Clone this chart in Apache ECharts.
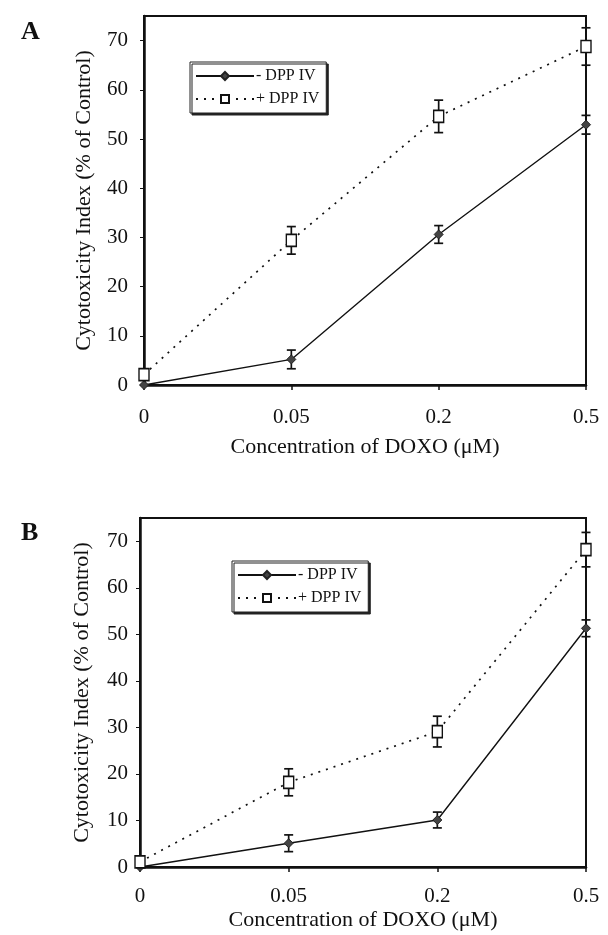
<!DOCTYPE html>
<html>
<head>
<meta charset="utf-8">
<script src="https://cdn.jsdelivr.net/npm/echarts@6/dist/echarts.min.js"></script>
<style>html,body{margin:0;padding:0;background:#fff}#c{width:608px;height:935px}</style>
</head>
<body>
<div id="c"></div>
<script>
const categories = ['0', '0.05', '0.2', '0.5'];
const yTicks = [0, 10, 20, 30, 40, 50, 60, 70];
const seriesNames = ['- DPP IV', '+ DPP IV'];
// Panel A
const aMinus = [0, 5.2, 30.6, 52.9];
const aMinusErr = [0, 1.9, 1.8, 1.9];
const aPlus = [2.1, 29.4, 54.6, 68.8];
const aPlusErr = [0, 2.8, 3.3, 3.8];
// Panel B
const bMinus = [0, 5.1, 10.1, 51.3];
const bMinusErr = [0, 1.8, 1.7, 1.8];
const bPlus = [1.1, 18.2, 29.1, 68.2];
const bPlusErr = [0, 2.9, 3.3, 3.7];

const FONT = 'Liberation Serif';
const chart = echarts.init(document.getElementById('c'), null, {renderer: 'canvas'});

function errData(vals, errs) {
  const out = [];
  vals.forEach((v, i) => { if (errs[i] > 0) out.push([i, v - errs[i], v + errs[i]]); });
  return out;
}
function errSeries(idx, vals, errs) {
  return {
    type: 'custom', xAxisIndex: idx, yAxisIndex: idx, z: 1, clip: false, silent: true,
    data: errData(vals, errs),
    encode: {x: 0, y: [1, 2]},
    renderItem: function (params, api) {
      const x = api.value(0);
      const lo = api.coord([x, api.value(1)]);
      const hi = api.coord([x, api.value(2)]);
      const w = 4.5;
      const st = {stroke: '#111', lineWidth: 1.7};
      return {type: 'group', children: [
        {type: 'line', shape: {x1: lo[0], y1: lo[1], x2: hi[0], y2: hi[1]}, style: st},
        {type: 'line', shape: {x1: lo[0] - w, y1: lo[1], x2: lo[0] + w, y2: lo[1]}, style: st},
        {type: 'line', shape: {x1: hi[0] - w, y1: hi[1], x2: hi[0] + w, y2: hi[1]}, style: st}
      ]};
    }
  };
}
function lineSeries(idx, name, vals, solid) {
  return {
    type: 'line', name: name, xAxisIndex: idx, yAxisIndex: idx, z: 3,
    data: vals,
    symbol: solid ? 'diamond' : 'rect',
    symbolSize: solid ? 9 : [10, 12],
    showAllSymbol: true,
    clip: false,
    lineStyle: {color: '#111', width: solid ? 1.4 : 1.7, type: solid ? 'solid' : [2, 6]},
    itemStyle: solid ? {color: '#444', borderColor: '#222', borderWidth: 1}
                     : {color: '#fff', borderColor: '#111', borderWidth: 1.5},
    emphasis: {disabled: true}
  };
}
const grids = [
  {left: 144, top: 16, width: 442, height: 369},
  {left: 140, top: 518, width: 446, height: 349}
];
const xLabelMargin = [22, 19];
const xNameGap = [51, 42];
const yLabelMargin = [16, 12];
const yNameGap = [49, 47];
function xAxis(i) {
  return {
    type: 'category', gridIndex: i, data: categories, boundaryGap: false,
    name: 'Concentration of DOXO (\u03bcM)', nameLocation: 'middle', nameGap: xNameGap[i],
    nameTextStyle: {fontFamily: FONT, fontSize: 22, color: '#111'},
    axisLine: {show: true, lineStyle: {color: '#111', width: 2.5}},
    axisTick: {show: true, inside: false, length: 5, lineStyle: {color: '#111', width: 1.5}, alignWithLabel: true},
    axisLabel: {fontFamily: FONT, fontSize: 21, color: '#111', margin: xLabelMargin[i]},
    splitLine: {show: false}
  };
}
function yAxis(i) {
  return {
    type: 'value', gridIndex: i, min: 0, max: 75, interval: 10,
    name: 'Cytotoxicity Index (% of Control)', nameLocation: 'middle', nameGap: yNameGap[i],
    nameTextStyle: {fontFamily: FONT, fontSize: 22, color: '#111'},
    axisLine: {show: true, lineStyle: {color: '#111', width: 2.5}},
    axisTick: {show: true, inside: false, length: 4, lineStyle: {color: '#111', width: 1}},
    axisLabel: {fontFamily: FONT, fontSize: 21, color: '#111', margin: yLabelMargin[i], showMaxLabel: false,
      formatter: function (v) { return yTicks.indexOf(v) >= 0 ? String(v) : ''; }},
    splitLine: {show: false}
  };
}
function legend(left, top) {
  return {
    data: seriesNames.map(n => ({name: n})),
    orient: 'vertical', left: left, top: top,
    itemWidth: 58, itemHeight: 10, itemGap: 7,
    padding: [6, 7, 6, 5],
    borderColor: '#222', borderWidth: 1, backgroundColor: '#fff',
    shadowColor: '#222', shadowOffsetX: 2, shadowOffsetY: 2, shadowBlur: 0,
    textStyle: {fontFamily: FONT, fontSize: 16, color: '#111', padding: [0, 0, 0, -3]},
    selectedMode: false
  };
}
const option = {
  animation: false,
  backgroundColor: '#fff',
  title: [
    {text: 'A', left: 16, top: 14, textStyle: {fontFamily: FONT, fontSize: 26, fontWeight: 'bold', color: '#111'}},
    {text: 'B', left: 16, top: 515, textStyle: {fontFamily: FONT, fontSize: 26, fontWeight: 'bold', color: '#111'}}
  ],
  grid: grids.map(g => Object.assign({show: true, borderColor: '#111', borderWidth: 2, backgroundColor: 'transparent'}, g)),
  legend: [legend(190, 62), legend(232, 561)],
  xAxis: [xAxis(0), xAxis(1)],
  yAxis: [yAxis(0), yAxis(1)],
  series: [
    errSeries(0, aMinus, aMinusErr),
    errSeries(0, aPlus, aPlusErr),
    lineSeries(0, seriesNames[0], aMinus, true),
    lineSeries(0, seriesNames[1], aPlus, false),
    errSeries(1, bMinus, bMinusErr),
    errSeries(1, bPlus, bPlusErr),
    lineSeries(1, seriesNames[0], bMinus, true),
    lineSeries(1, seriesNames[1], bPlus, false)
  ]
};
chart.setOption(option);
</script>
</body>
</html>
